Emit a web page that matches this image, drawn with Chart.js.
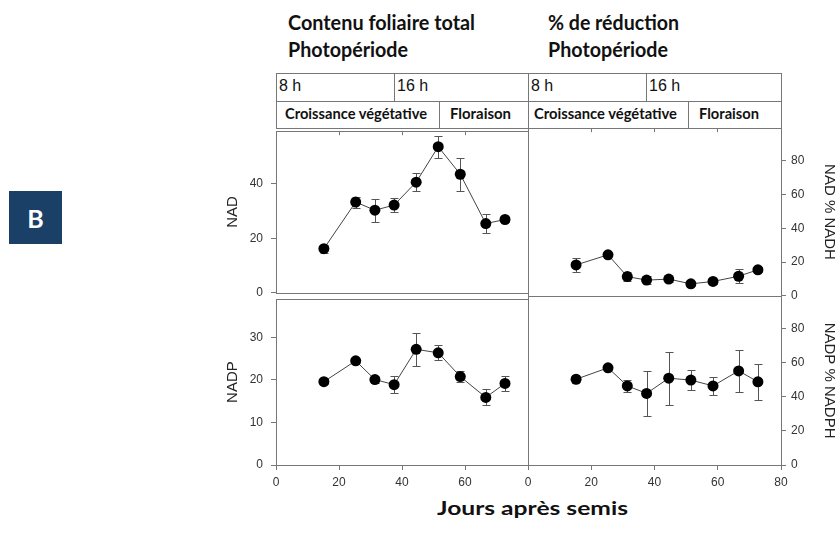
<!DOCTYPE html>
<html>
<head>
<meta charset="utf-8">
<script src="https://cdn.jsdelivr.net/npm/chart.js@4.4.0/dist/chart.umd.min.js"></script>
<style>
html, body { margin: 0; padding: 0; background: #fff; }
body { width: 840px; height: 534px; position: relative; overflow: hidden; }
canvas, .t, .cell, .tag { position: absolute; }
.t { white-space: nowrap; line-height: 1; color: #111; transform-origin: 0 0; }
.b { font-family: Lato, 'Open Sans', sans-serif; font-weight: 700; }
.r { font-family: 'Liberation Sans', Arial, sans-serif; }
.cell { border: 1px solid #777; box-sizing: border-box; }
.tag { left: 9px; top: 191px; width: 53px; height: 53px; background: #1a4068; color: #fff;
       display: flex; align-items: center; justify-content: center;
       font-family: Lato, sans-serif; font-weight: 700; font-size: 25px; }
</style>
</head>
<body>

<div class="tag">B</div>

<div class="t b fit" data-w="187" style="left:288px;top:12px;font-size:20px">Contenu foliaire total</div>
<div class="t b fit" data-w="120" style="left:288px;top:38.5px;font-size:20px">Photopériode</div>
<div class="t b fit" data-w="131" style="left:548px;top:12px;font-size:20px">% de réduction</div>
<div class="t b fit" data-w="120" style="left:548px;top:38.5px;font-size:20px">Photopériode</div>

<div class="cell" style="left:276px;top:73px;width:119px;height:29px"></div>
<div class="cell" style="left:394px;top:73px;width:135px;height:29px"></div>
<div class="cell" style="left:528px;top:73px;width:119px;height:29px"></div>
<div class="cell" style="left:646px;top:73px;width:136px;height:29px"></div>
<div class="cell" style="left:276px;top:101px;width:164px;height:28px"></div>
<div class="cell" style="left:439px;top:101px;width:90px;height:28px"></div>
<div class="cell" style="left:528px;top:101px;width:161px;height:28px"></div>
<div class="cell" style="left:688px;top:101px;width:94px;height:28px"></div>

<div class="t r" style="left:279px;top:78px;font-size:16px">8 h</div>
<div class="t r" style="left:397px;top:78px;font-size:16px">16 h</div>
<div class="t r" style="left:531px;top:78px;font-size:16px">8 h</div>
<div class="t r" style="left:649px;top:78px;font-size:16px">16 h</div>

<div class="t b fit" data-w="142" style="left:285px;top:106px;font-size:15px">Croissance végétative</div>
<div class="t b fit" data-w="61" style="left:450px;top:106px;font-size:15px">Floraison</div>
<div class="t b fit" data-w="143" style="left:534px;top:106px;font-size:15px">Croissance végétative</div>
<div class="t b fit" data-w="60" style="left:699px;top:106px;font-size:15px">Floraison</div>

<div class="t b fit" data-w="191" style="left:437px;top:498.5px;font-size:18.5px">Jours après semis</div>

<canvas id="nad" width="324" height="192" style="left:216px;top:116px"></canvas>
<canvas id="nadRed" width="323" height="192" style="left:516px;top:116px"></canvas>
<canvas id="nadp" width="324" height="211" style="left:216px;top:284px"></canvas>
<canvas id="nadpRed" width="323" height="211" style="left:516px;top:284px"></canvas>

<script>
// jours apres semis
var days = [15.2, 25.3, 31.4, 37.5, 44.5, 51.5, 58.5, 66.6, 72.7];

// contenu foliaire total
var nad = [16.2, 33.3, 30.3, 32.2, 40.6, 53.6, 43.5, 25.4, 26.9];
var nadErr = [1.5, 2, 4.3, 2.7, 3.3, 4, 6, 3.6, 1];
var nadp = [19.6, 24.5, 20.1, 18.9, 27.2, 26.4, 20.8, 15.9, 19.2];
var nadpErr = [0.6, 0.4, 0.8, 2, 3.85, 1.8, 1.3, 1.9, 1.7];

// % de reduction
var nadRed = [18.3, 24.3, 11.4, 9.3, 9.9, 7.1, 8.5, 11.6, 15.4];
var nadRedErr = [4.2, 0.8, 2.5, 2.2, 1.5, 1, 1.5, 4, 1.5];
var nadpRed = [50.3, 57, 46.4, 42, 50.9, 49.8, 46.4, 55.2, 48.8];
var nadpRedErr = [1.5, 1, 3.7, 13, 15.5, 6, 5.3, 12.3, 10.7];

// stretch the bold titles to the width of the original (narrow) font
document.querySelectorAll('.fit').forEach(function (el) {
    var w = el.getBoundingClientRect().width;
    el.style.transform = 'scaleX(' + (el.dataset.w / w) + ')';
});

Chart.defaults.font.family = "'Liberation Sans', Arial, sans-serif";
Chart.defaults.color = '#333';

var errorBars = {
    id: 'errorBars',
    beforeDatasetsDraw: function (chart, args, opts) {
        var ctx = chart.ctx, x = chart.scales.x, y = chart.scales.y;
        var pts = chart.data.datasets[0].data;
        ctx.save();
        ctx.strokeStyle = '#555';
        ctx.lineWidth = 1;
        pts.forEach(function (p, i) {
            var e = opts.err[i];
            var px = Math.round(x.getPixelForValue(p.x)) + 0.5;
            var top = Math.round(y.getPixelForValue(p.y + e)) + 0.5;
            var bot = Math.round(y.getPixelForValue(p.y - e)) + 0.5;
            ctx.beginPath();
            ctx.moveTo(px, top); ctx.lineTo(px, bot);
            ctx.moveTo(px - 4, top); ctx.lineTo(px + 4, top);
            ctx.moveTo(px - 4, bot); ctx.lineTo(px + 4, bot);
            ctx.stroke();
        });
        ctx.restore();
    }
};

var frame = {
    id: 'frame',
    beforeDatasetsDraw: function (chart) {
        var a = chart.chartArea, ctx = chart.ctx;
        ctx.save();
        ctx.strokeStyle = '#777';
        ctx.lineWidth = 1;
        ctx.strokeRect(Math.round(a.left) + 0.5, Math.round(a.top) + 0.5,
            Math.round(a.right - a.left), Math.round(a.bottom - a.top));
        ctx.restore();
    }
};

function panel(id, vals, err, yMax, yStep, yTitle, side, bottom) {
    var left = side === 'left';
    return new Chart(id, {
        type: 'line',
        data: {
            datasets: [{
                data: days.map(function (d, i) { return {x: d, y: vals[i]}; }),
                borderColor: '#444',
                borderWidth: 1,
                pointRadius: 5.5,
                pointBackgroundColor: '#000',
                pointBorderColor: '#000',
                pointBorderWidth: 0
            }]
        },
        options: {
            responsive: false,
            animation: false,
            layout: {padding: {left: left ? 0 : 12, right: left ? 12 : 0, top: 12, bottom: bottom ? 0 : 12}},
            plugins: {legend: {display: false}, tooltip: {enabled: false}, errorBars: {err: err}},
            scales: {
                x: {
                    type: 'linear', min: 0, max: 80,
                    position: bottom ? 'bottom' : 'top',
                    afterFit: function (s) { s.height = bottom ? 30 : 0; },
                    border: {display: false},
                    grid: {drawOnChartArea: false, tickLength: bottom ? 5 : -4, color: '#777'},
                    ticks: {
                        display: bottom, stepSize: 20, padding: 5, font: {size: 12},
                        callback: function (v) { return (left && v === 80) ? '' : v; }
                    }
                },
                y: {
                    min: 0, max: yMax, position: side,
                    afterFit: function (s) { s.width = left ? 60 : 58; },
                    border: {display: false},
                    grid: {drawOnChartArea: false, tickLength: 5, color: '#777'},
                    ticks: {stepSize: yStep, includeBounds: false, padding: left ? 8 : 5, font: {size: 12}},
                    title: {display: true, text: yTitle, color: '#222', font: {size: 15},
                            padding: {top: left ? 7.5 : 0.5, bottom: 0}}
                }
            }
        },
        plugins: [frame, errorBars]
    });
}

panel('nad', nad, nadErr, 59.3, 20, 'NAD', 'left', false);
panel('nadRed', nadRed, nadRedErr, 99.4, 20, 'NAD % NADH', 'right', false);
panel('nadp', nadp, nadpErr, 39, 10, 'NADP', 'left', true);
panel('nadpRed', nadpRed, nadpRedErr, 99, 20, 'NADP % NADPH', 'right', true);
</script>
</body>
</html>
